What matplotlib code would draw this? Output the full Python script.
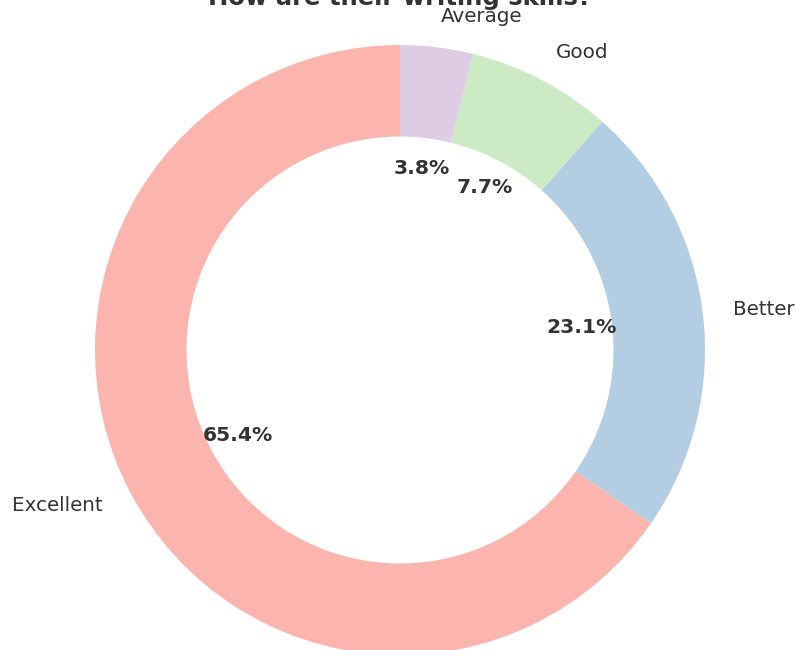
import matplotlib.pyplot as plt

# survey answers
labels = ["Excellent", "Better", "Good", "Average"]
counts = [17, 6, 2, 1]
colors = ["#fbb4ae", "#b3cde3", "#ccebc5", "#decbe4"]

W, H = 795, 650
R = 305.0           # outer radius in px
cx, cy = 400, 350   # centre in px from top-left

fig = plt.figure(figsize=(W / 100, H / 100), dpi=100)
ax = fig.add_axes([0, 0, 1, 1])

wedges, texts, autotexts = ax.pie(
    counts, labels=labels, colors=colors, autopct="%1.1f%%",
    startangle=90, pctdistance=0.6, labeldistance=1.1,
    wedgeprops=dict(width=0.3, edgecolor="none"),
    textprops=dict(color="#333333", fontsize=14.3),
)
for t in autotexts:
    t.set_fontweight("bold")
    t.set_fontsize(14.6)

ax.set_xlim(-cx / R, (W - cx) / R)
ax.set_ylim(-(H - cy) / R, cy / R)
ax.set_aspect("auto")
ax.axis("off")

fig.text(cx / W, 1 - 5 / H, "How are their writing skills?",
         ha="center", va="baseline", fontsize=17.5, fontweight="bold",
         color="#333333")

fig.savefig("out.png", dpi=100)
